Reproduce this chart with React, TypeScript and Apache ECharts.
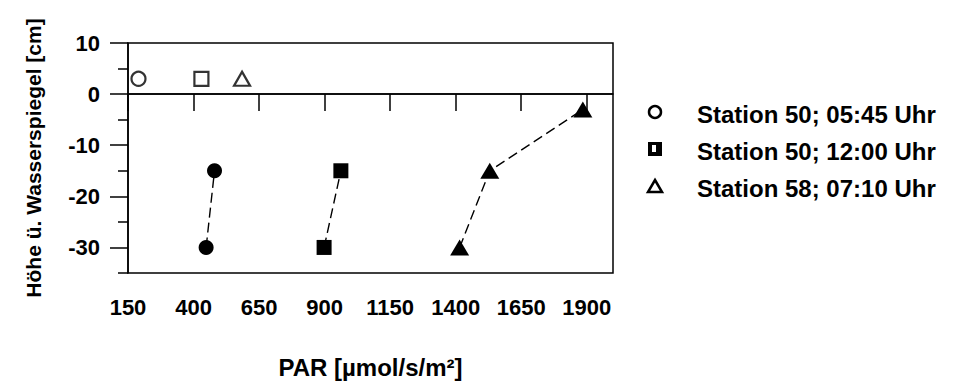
import React, { useEffect, useRef } from "react";
import * as echarts from "echarts";

const xTicks = [150, 400, 650, 900, 1150, 1400, 1650, 1900];
const yMajorTicks = [-30, -20, -10, 0, 10];
const yMinorTicks = [-35, -25, -15, -5, 5];

const legendNames = [
  "Station 50; 05:45 Uhr",
  "Station 50; 12:00 Uhr",
  "Station 58; 07:10 Uhr",
];

// above-water reference points (open symbols)
const circleOpen = [[190, 3]];
const squareOpen = [[430, 3]];
const triangleOpen = [[585, 3]];

// below-water profiles (filled symbols)
const circleFilled = [
  [448, -30],
  [480, -15],
];
const squareFilled = [
  [898, -30],
  [962, -15],
];
const triangleFilled = [
  [1415, -30],
  [1530, -15],
  [1885, -3],
];

const FONT = "'Liberation Sans', Arial, Helvetica, sans-serif";

export default function App() {
  const ref = useRef<HTMLDivElement>(null);
  useEffect(() => {
    if (!ref.current) return;
    const chart = echarts.init(ref.current, null, { renderer: "svg" });
    const dashed = { color: "#000", width: 1.4, type: [10, 5] as any };
    const openStyle = { color: "#fff", borderColor: "#000", borderWidth: 2.2 };
    const plain = (v: number) => String(v);
    const rowY = (i: number) => 113 + i * 37;
    const option: any = {
      animation: false,
      backgroundColor: "#fff",
      grid: {
        left: 128,
        right: 347,
        top: 43,
        bottom: 111,
        show: true,
        borderColor: "#000",
        borderWidth: 1.5,
        backgroundColor: "transparent",
      },
      xAxis: {
        type: "value",
        min: 150,
        max: 2000,
        interval: 250,
        name: "PAR [µmol/s/m²]",
        nameLocation: "middle",
        nameGap: 82,
        nameTextStyle: { fontFamily: FONT, fontWeight: "bold", fontSize: 24, color: "#000" },
        axisLine: { show: true, lineStyle: { color: "#000", width: 1.5 } },
        axisTick: { show: true, customValues: xTicks, length: 17, lineStyle: { color: "#000", width: 1.5 } },
        axisLabel: {
          customValues: xTicks,
          formatter: plain,
          margin: 23,
          fontFamily: FONT,
          fontWeight: "bold",
          fontSize: 22,
          color: "#000",
        },
        splitLine: { show: false },
      },
      yAxis: [
        {
          type: "value",
          position: "left",
          min: -35,
          max: 10,
          name: "Höhe ü. Wasserspiegel [cm]",
          nameLocation: "middle",
          nameGap: 84,
          nameTextStyle: { fontFamily: FONT, fontWeight: "bold", fontSize: 21, color: "#000" },
          axisLine: { show: true, lineStyle: { color: "#000", width: 1.5 } },
          axisTick: { show: true, customValues: yMajorTicks, length: 18, lineStyle: { color: "#000", width: 1.5 } },
          axisLabel: {
            customValues: yMajorTicks,
            formatter: plain,
            margin: 28,
            fontFamily: FONT,
            fontWeight: "bold",
            fontSize: 22,
            color: "#000",
          },
          splitLine: { show: false },
        },
        {
          type: "value",
          position: "left",
          min: -35,
          max: 10,
          axisLine: { show: false },
          axisTick: { show: true, customValues: yMinorTicks, length: 10, lineStyle: { color: "#000", width: 1.5 } },
          axisLabel: { show: false },
          splitLine: { show: false },
        },
      ],
      series: [
        {
          name: legendNames[0],
          type: "line",
          data: circleFilled,
          symbol: "circle",
          symbolSize: 15,
          itemStyle: { color: "#000" },
          lineStyle: dashed,
          markLine: {
            silent: true,
            symbol: "none",
            label: { show: false },
            lineStyle: { color: "#000", width: 1.5, type: "solid" },
            data: [{ yAxis: 0 }],
          },
        },
        {
          name: legendNames[1],
          type: "line",
          data: squareFilled,
          symbol: "rect",
          symbolSize: 15,
          itemStyle: { color: "#000" },
          lineStyle: dashed,
        },
        {
          name: legendNames[2],
          type: "line",
          data: triangleFilled,
          symbol: "triangle",
          symbolSize: [19, 16],
          itemStyle: { color: "#000" },
          lineStyle: dashed,
        },
        {
          type: "scatter",
          data: circleOpen,
          symbol: "circle",
          symbolSize: 14,
          itemStyle: openStyle,
        },
        {
          type: "scatter",
          data: squareOpen,
          symbol: "rect",
          symbolSize: 14,
          itemStyle: openStyle,
        },
        {
          type: "scatter",
          data: triangleOpen,
          symbol: "triangle",
          symbolSize: [16, 14],
          itemStyle: openStyle,
        },
      ],
      graphic: [
        {
          type: "circle",
          shape: { cx: 655, cy: rowY(0) - 1, r: 6 },
          style: { fill: "#fff", stroke: "#000", lineWidth: 2.5 },
        },
        {
          type: "rect",
          shape: { x: 648, y: rowY(1) - 8, width: 14, height: 14 },
          style: { fill: "#000" },
        },
        {
          type: "rect",
          shape: { x: 652, y: rowY(1) - 5, width: 4, height: 7 },
          style: { fill: "#fff" },
        },
        {
          type: "polygon",
          shape: { points: [[655, rowY(2) - 7], [662, rowY(2) + 5], [648, rowY(2) + 5]] },
          style: { fill: "#fff", stroke: "#000", lineWidth: 2.5 },
        },
        ...legendNames.map((n, i) => ({
          type: "text",
          x: 697,
          y: rowY(i) + 1,
          style: {
            text: n,
            fontFamily: FONT,
            fontWeight: "bold",
            fontSize: 24,
            fill: "#000",
            verticalAlign: "middle",
          },
        })),
      ],
    };
    chart.setOption(option);
    return () => chart.dispose();
  }, []);
  return (
    <div
      ref={ref}
      style={{ position: "fixed", left: 0, top: 0, width: 960, height: 384 }}
    />
  );
}
